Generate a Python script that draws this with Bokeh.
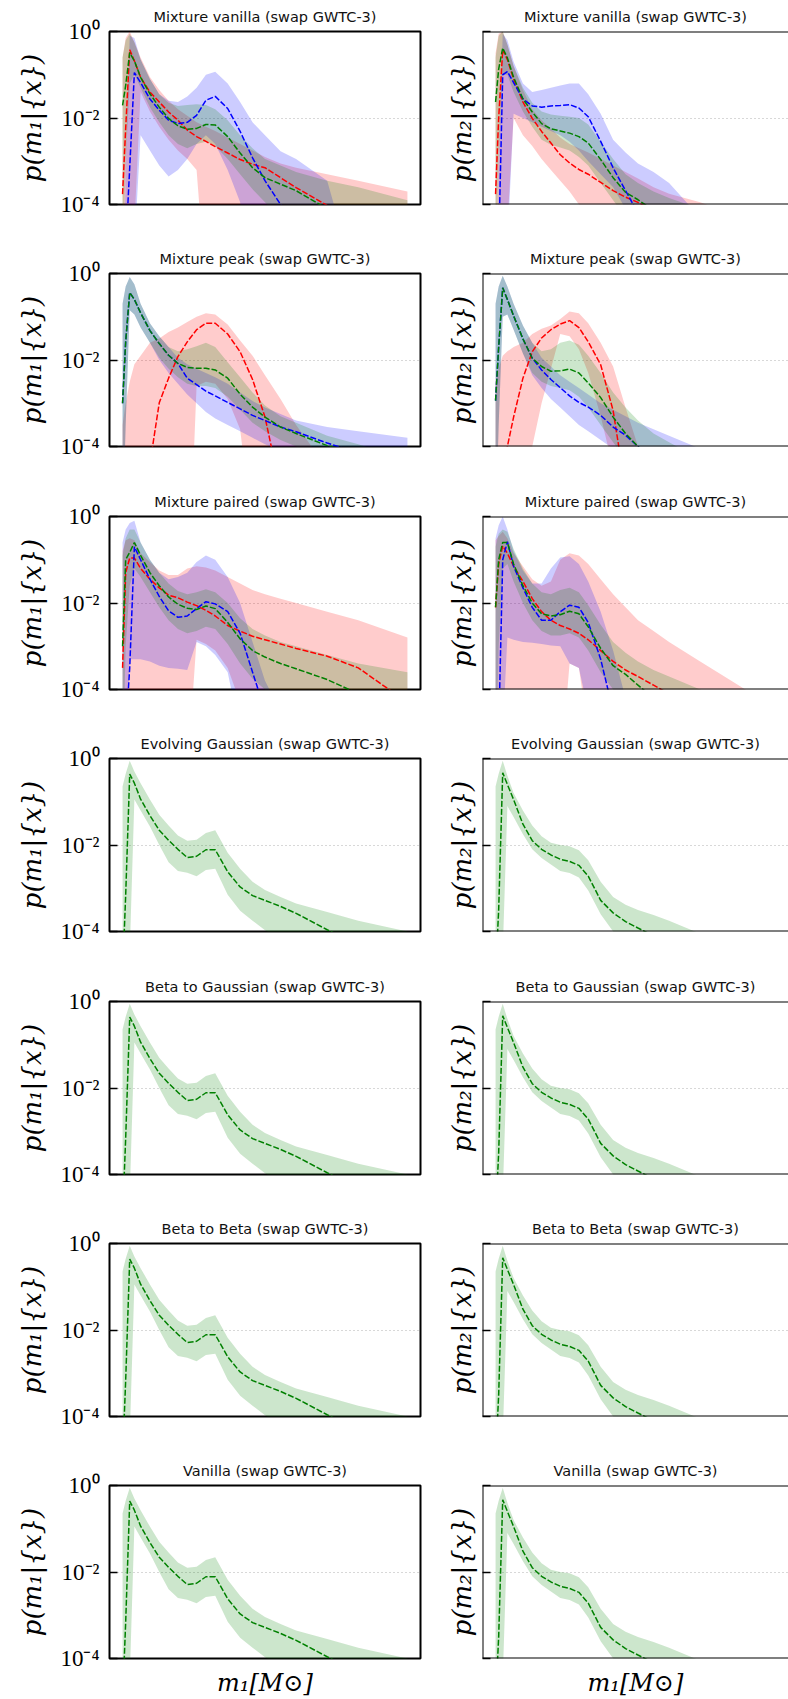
import numpy as np
from bokeh.plotting import figure
from bokeh.layouts import column, row
from bokeh.models import Range1d, FixedTicker, CustomJSTickFormatter, Span
from bokeh.embed import file_html
from bokeh.resources import INLINE

# ---------------- data (log10 of density) ----------------
MASS = [4.2, 5.2, 6.5, 8, 10, 13, 16, 19, 22, 25, 28, 31, 34, 38, 42, 46, 50, 55, 60, 70, 80, 95.8]

TITLES = ["Mixture vanilla (swap GWTC-3)", "Mixture peak (swap GWTC-3)",
          "Mixture paired (swap GWTC-3)", "Evolving Gaussian (swap GWTC-3)",
          "Beta to Gaussian (swap GWTC-3)", "Beta to Beta (swap GWTC-3)",
          "Vanilla (swap GWTC-3)"]
YLABELS = ["p(m\u2081|{x})", "p(m\u2082|{x})"]
XLABEL = "m\u2081[M\u2299]"
YTICKS = [1e-4, 1e-2, 1.0]

# Mixture vanilla, m1
mv1_red_med = [-3.76, -2.24, -0.42, -0.68, -1.06, -1.40, -1.63, -1.86, -2.05, -2.28, -2.43, -2.54, -2.66, -2.81, -2.96, -3.07, -3.15, -3.38, -3.61, -4.02, -4.3, -4.7]
mv1_red_lo = [-7, -6, -5, -4.5, -1.4, -1.85, -2.2, -2.5, -2.75, -2.95, -3.2, -6, -6, -6, -6, -6, -6, -6, -6, -6, -6, -6]
mv1_red_hi = [-0.6, -0.15, 0.0, -0.25, -0.6, -1.05, -1.35, -1.6, -1.8, -1.95, -2.1, -2.2, -2.3, -2.45, -2.6, -2.75, -2.9, -3.05, -3.15, -3.3, -3.45, -3.7]
mv1_blue_med = [-6, -5, -3.15, -0.95, -1.18, -1.56, -1.82, -2.05, -2.13, -2.10, -1.94, -1.59, -1.50, -1.78, -2.31, -2.92, -3.45, -4.0, -4.5, -5.5, -6, -6.5]
mv1_blue_lo = [-8, -8, -6, -5, -2.4, -2.75, -3.1, -3.35, -3.2, -2.95, -2.6, -2.4, -2.6, -3.2, -3.95, -6, -6, -6, -6, -6, -6, -6]
mv1_blue_hi = [-8, -3, -0.1, -0.15, -0.65, -1.1, -1.45, -1.6, -1.63, -1.5, -1.3, -1.0, -0.93, -1.2, -1.63, -2.1, -2.4, -2.77, -2.95, -3.45, -6, -6]
mv1_green_med = [-1.71, -1.25, -0.49, -0.68, -1.06, -1.44, -1.75, -2.01, -2.18, -2.26, -2.24, -2.15, -2.16, -2.43, -2.81, -3.15, -3.38, -3.53, -3.68, -4.1, -4.4, -4.8]
mv1_green_lo = [-6, -3, -1.2, -1.0, -1.3, -1.75, -2.1, -2.4, -2.6, -2.7, -2.6, -2.55, -2.65, -2.95, -3.3, -3.65, -3.95, -4.3, -4.6, -5, -5.3, -5.6]
mv1_green_hi = [-0.6, -0.2, -0.05, -0.25, -0.65, -1.1, -1.45, -1.65, -1.72, -1.7, -1.68, -1.7, -1.8, -2.05, -2.4, -2.7, -2.95, -3.1, -3.25, -3.45, -3.6, -3.9]

# Mixture vanilla, m2
mv2_red_med = [-3.76, -2.0, -0.42, -0.65, -1.10, -1.63, -2.01, -2.31, -2.58, -2.85, -3.04, -3.19, -3.30, -3.49, -3.68, -3.83, -3.95, -4.15, -4.35, -4.8, -5.2, -5.8]
mv2_red_lo = [-7, -6, -5, -4.5, -2.0, -2.4, -2.65, -2.95, -3.2, -3.45, -3.7, -4.0, -4.3, -5, -5.5, -6, -6, -6, -6, -6, -6, -6]
mv2_red_hi = [-0.5, -0.05, 0.0, -0.3, -0.8, -1.35, -1.8, -2.05, -2.25, -2.45, -2.6, -2.7, -2.8, -2.95, -3.1, -3.25, -3.4, -3.6, -3.75, -3.95, -4.2, -4.6]
mv2_blue_med = [-6, -5, -1.0, -0.93, -1.18, -1.56, -1.72, -1.75, -1.72, -1.71, -1.69, -1.77, -1.97, -2.54, -3.15, -3.68, -4.2, -4.8, -5.3, -6, -6.5, -7]
mv2_blue_lo = [-8, -8, -6, -5, -1.9, -2.0, -2.1, -2.2, -2.3, -2.4, -2.55, -2.75, -3.0, -3.3, -3.6, -4.1, -5, -6, -6, -6, -6, -6]
mv2_blue_hi = [-8, -3, -0.05, -0.2, -0.7, -1.2, -1.4, -1.35, -1.3, -1.25, -1.2, -1.2, -1.45, -1.9, -2.5, -2.8, -3.05, -3.25, -3.5, -4.3, -5, -6]
mv2_green_med = [-1.63, -0.87, -0.38, -0.61, -1.06, -1.56, -1.86, -2.13, -2.25, -2.30, -2.35, -2.43, -2.58, -2.96, -3.38, -3.72, -3.89, -4.14, -4.4, -4.9, -5.3, -5.8]
mv2_green_lo = [-6, -3, -1.0, -1.0, -1.4, -1.85, -2.2, -2.5, -2.62, -2.68, -2.75, -2.9, -3.1, -3.5, -3.9, -4.3, -4.6, -5, -5.3, -5.8, -6, -6.5]
mv2_green_hi = [-0.6, -0.1, 0.0, -0.3, -0.8, -1.3, -1.65, -1.85, -1.92, -1.95, -1.97, -2.0, -2.15, -2.55, -2.95, -3.3, -3.5, -3.7, -3.85, -4.1, -4.3, -4.6]

# Mixture peak, m1
mp1_red_med = [-7, -6.5, -6, -5.5, -5, -4.4, -2.99, -2.42, -1.92, -1.58, -1.30, -1.15, -1.15, -1.40, -1.81, -2.45, -3.32, -5, -6, -7, -7, -7]
mp1_red_lo = [-8, -8, -8, -8, -8, -8, -8, -8, -8, -8, -2.6, -2.5, -2.55, -2.9, -3.6, -6, -6, -6, -6, -7, -7, -7]
mp1_red_hi = [-3.5, -3.0, -2.5, -2.1, -1.9, -1.6, -1.5, -1.35, -1.25, -1.12, -1.0, -0.92, -0.95, -1.18, -1.55, -1.9, -2.35, -2.9, -3.5, -4.5, -5, -5.5]
mp1_blue_med = [-3.0, -1.58, -0.44, -0.60, -0.91, -1.32, -1.62, -1.89, -2.08, -2.42, -2.57, -2.72, -2.83, -2.98, -3.13, -3.28, -3.40, -3.55, -3.66, -3.92, -4.15, -4.5]
mp1_blue_lo = [-6, -3.5, -0.85, -0.95, -1.25, -1.6, -2.0, -2.3, -2.55, -2.8, -3.0, -3.2, -3.35, -3.5, -3.65, -3.8, -3.95, -4.1, -4.2, -4.4, -4.6, -4.9]
mp1_blue_hi = [-0.7, -0.3, -0.08, -0.25, -0.7, -1.15, -1.45, -1.7, -1.95, -2.1, -2.2, -2.3, -2.4, -2.55, -2.75, -2.95, -3.1, -3.25, -3.4, -3.55, -3.65, -3.8]
mp1_green_med = [-3.0, -1.58, -0.44, -0.60, -0.91, -1.32, -1.62, -1.89, -2.08, -2.17, -2.19, -2.19, -2.23, -2.42, -2.79, -3.09, -3.32, -3.55, -3.70, -3.98, -4.15, -4.5]
mp1_green_lo = [-6, -3.5, -0.85, -0.95, -1.25, -1.6, -1.95, -2.2, -2.4, -2.55, -2.6, -2.6, -2.65, -2.85, -3.15, -3.45, -3.65, -3.85, -4.0, -4.3, -4.5, -4.8]
mp1_green_hi = [-0.7, -0.3, -0.08, -0.25, -0.7, -1.15, -1.45, -1.7, -1.8, -1.75, -1.68, -1.6, -1.7, -2.05, -2.4, -2.75, -3.05, -3.3, -3.45, -3.75, -3.95, -4.3]

# Mixture peak, m2
mp2_red_med = [-6, -6, -6, -4.0, -3.32, -2.42, -1.81, -1.49, -1.30, -1.17, -1.09, -1.25, -1.58, -2.11, -3.17, -5, -6, -6, -6, -6, -6, -6]
mp2_red_lo = [-8, -8, -8, -8, -8, -8, -4.0, -3.0, -2.2, -1.4, -1.45, -1.75, -2.3, -3.3, -4.5, -6, -6, -6, -6, -6, -6, -6]
mp2_red_hi = [-2.5, -2.2, -1.9, -1.8, -1.7, -1.6, -1.4, -1.28, -1.2, -1.05, -0.88, -0.92, -1.15, -1.6, -2.15, -3.1, -4.0, -5, -6, -6, -6, -6]
mp2_blue_med = [-2.94, -1.7, -0.33, -0.60, -0.98, -1.51, -1.96, -2.23, -2.45, -2.64, -2.83, -2.98, -3.09, -3.28, -3.55, -3.74, -4.0, -4.3, -4.6, -5, -5.5, -6]
mp2_blue_lo = [-6, -3.5, -1.0, -0.95, -1.3, -1.85, -2.35, -2.65, -2.9, -3.1, -3.3, -3.5, -3.65, -3.85, -4.05, -4.3, -4.6, -5, -5.5, -6, -6, -6]
mp2_blue_hi = [-0.7, -0.3, -0.05, -0.3, -0.7, -1.2, -1.6, -1.95, -2.15, -2.35, -2.5, -2.65, -2.8, -3.0, -3.15, -3.3, -3.45, -3.6, -3.75, -4.05, -4.3, -4.7]
mp2_green_med = [-2.94, -1.7, -0.33, -0.60, -0.98, -1.51, -1.96, -2.15, -2.26, -2.25, -2.21, -2.30, -2.53, -2.87, -3.32, -3.70, -4.0, -4.3, -4.6, -5, -5.5, -6]
mp2_green_lo = [-6, -3.5, -1.0, -0.95, -1.3, -1.85, -2.3, -2.5, -2.6, -2.65, -2.7, -2.85, -3.1, -3.5, -3.9, -4.3, -4.6, -5, -5.5, -6, -6, -6]
mp2_green_hi = [-0.7, -0.3, -0.05, -0.3, -0.7, -1.2, -1.6, -1.8, -1.75, -1.6, -1.55, -1.65, -1.9, -2.3, -2.75, -3.1, -3.4, -3.7, -3.9, -4.3, -4.6, -5]

# Mixture paired, m1
mq1_red_med = [-3.5, -1.3, -0.96, -0.96, -1.2, -1.45, -1.65, -1.82, -1.88, -1.98, -2.06, -2.17, -2.3, -2.52, -2.65, -2.77, -2.85, -2.95, -3.05, -3.23, -3.5, -4.3]
mq1_red_lo = [-6, -6, -6, -6, -6, -6, -6, -6, -6, -6, -2.85, -2.95, -3.1, -3.5, -4.3, -5, -5, -5, -5, -5, -5, -5]
mq1_red_hi = [-0.8, -0.55, -0.5, -0.55, -0.85, -1.05, -1.25, -1.35, -1.35, -1.2, -1.15, -1.18, -1.25, -1.4, -1.55, -1.7, -1.8, -1.9, -2.0, -2.2, -2.4, -2.8]
mq1_blue_med = [-6, -5, -3.5, -0.7, -1.0, -1.45, -1.85, -2.18, -2.33, -2.3, -2.13, -1.97, -2.02, -2.2, -2.7, -3.6, -4.5, -6, -6, -6, -6, -6]
mq1_blue_lo = [-6, -6, -3.3, -3.3, -3.3, -3.35, -3.45, -3.5, -3.52, -3.55, -2.9, -3.0, -3.2, -3.6, -5, -6, -6, -6, -6, -6, -6, -6]
mq1_blue_hi = [-0.6, -0.3, -0.15, -0.1, -0.6, -1.0, -1.3, -1.45, -1.4, -1.3, -1.05, -0.9, -1.0, -1.4, -2.0, -2.9, -3.8, -4.5, -6, -6, -6, -6]
mq1_green_med = [-3.0, -1.0, -0.83, -0.6, -0.9, -1.3, -1.6, -1.86, -2.03, -2.12, -2.15, -2.07, -2.13, -2.45, -2.83, -3.1, -3.25, -3.4, -3.52, -3.77, -4.1, -4.5]
mq1_green_lo = [-6, -3, -1.6, -1.2, -1.4, -1.75, -2.1, -2.4, -2.6, -2.7, -2.65, -2.55, -2.6, -2.95, -3.4, -3.75, -4.0, -4.3, -4.5, -4.9, -5.2, -5.5]
mq1_green_hi = [-0.9, -0.5, -0.3, -0.3, -0.6, -1.0, -1.3, -1.55, -1.72, -1.8, -1.75, -1.68, -1.75, -2.0, -2.35, -2.6, -2.75, -2.9, -3.0, -3.2, -3.4, -3.6]

# Mixture paired, m2
mq2_red_med = [-2.1, -1.1, -0.68, -0.85, -1.15, -1.5, -1.9, -2.2, -2.4, -2.52, -2.6, -2.7, -2.85, -3.1, -3.35, -3.55, -3.7, -3.9, -4.1, -4.5, -5, -5.5]
mq2_red_lo = [-6, -6, -6, -6, -6, -6, -6, -6, -6, -6, -3.4, -3.5, -5, -5, -5, -5, -5, -5, -5, -5, -5, -5]
mq2_red_hi = [-0.55, -0.45, -0.35, -0.5, -0.85, -1.15, -1.45, -1.6, -1.5, -1.0, -0.85, -0.9, -1.1, -1.45, -1.8, -2.1, -2.4, -2.65, -2.9, -3.35, -3.8, -4.5]
mq2_blue_med = [-6, -5, -1.0, -0.58, -1.15, -1.65, -2.1, -2.4, -2.4, -2.2, -2.05, -2.1, -2.45, -3.3, -4.5, -6, -6, -6, -6, -6, -6, -6]
mq2_blue_lo = [-6, -6, -5, -2.8, -2.85, -2.9, -2.92, -2.95, -2.98, -3.0, -3.4, -3.5, -4.5, -6, -6, -6, -6, -6, -6, -6, -6, -6]
mq2_blue_hi = [-0.5, -0.2, 0.0, -0.3, -0.8, -1.25, -1.55, -1.55, -1.2, -0.95, -0.92, -1.1, -1.5, -2.2, -3.1, -4.2, -5, -6, -6, -6, -6, -6]
mq2_green_med = [-2.1, -1.0, -0.6, -0.6, -1.1, -1.6, -2.0, -2.25, -2.3, -2.27, -2.19, -2.25, -2.55, -3.05, -3.45, -3.65, -3.9, -4.2, -4.5, -5, -5.5, -6]
mq2_green_lo = [-6, -3, -1.2, -1.1, -1.5, -2.0, -2.4, -2.65, -2.75, -2.75, -2.7, -2.8, -3.1, -3.6, -4.0, -4.3, -4.6, -5, -5.3, -5.8, -6, -6]
mq2_green_hi = [-0.7, -0.4, -0.3, -0.35, -0.75, -1.2, -1.55, -1.75, -1.8, -1.7, -1.65, -1.75, -2.05, -2.5, -2.9, -3.15, -3.35, -3.55, -3.7, -4.0, -4.3, -4.7]

# single-model rows (Evolving Gaussian, Beta to Gaussian, Beta to Beta, Vanilla)
single1_med = [-5, -3.17, -0.36, -0.57, -0.94, -1.32, -1.66, -1.89, -2.1, -2.29, -2.26, -2.11, -2.11, -2.62, -2.97, -3.17, -3.28, -3.42, -3.58, -3.96, -4.3, -4.7]
single1_lo = [-6, -6, -4.5, -0.95, -1.2, -1.57, -2.0, -2.4, -2.6, -2.64, -2.72, -2.58, -2.55, -3.15, -3.52, -3.75, -3.97, -4.2, -4.4, -4.8, -5.1, -5.5]
single1_hi = [-0.65, -0.35, -0.05, -0.3, -0.57, -0.95, -1.3, -1.55, -1.78, -1.9, -1.88, -1.72, -1.66, -2.18, -2.55, -2.85, -3.04, -3.2, -3.35, -3.55, -3.75, -4.0]
single2_med = [-5, -3.5, -0.33, -0.6, -0.95, -1.52, -1.9, -2.1, -2.23, -2.33, -2.38, -2.47, -2.72, -3.28, -3.57, -3.77, -3.92, -4.1, -4.3, -4.7, -5, -5.5]
single2_lo = [-6, -6, -4.5, -1.1, -1.35, -1.75, -2.1, -2.3, -2.45, -2.6, -2.65, -2.75, -3.05, -3.6, -4.0, -4.3, -4.6, -5, -5.3, -5.8, -6, -6]
single2_hi = [-0.65, -0.35, -0.05, -0.4, -0.8, -1.2, -1.55, -1.8, -1.95, -2.0, -2.03, -2.12, -2.35, -2.85, -3.2, -3.38, -3.5, -3.62, -3.75, -4.05, -4.3, -4.7]

MIX_ROWS = [
    ([("red", mv1_red_lo, mv1_red_med, mv1_red_hi), ("blue", mv1_blue_lo, mv1_blue_med, mv1_blue_hi), ("green", mv1_green_lo, mv1_green_med, mv1_green_hi)],
     [("red", mv2_red_lo, mv2_red_med, mv2_red_hi), ("blue", mv2_blue_lo, mv2_blue_med, mv2_blue_hi), ("green", mv2_green_lo, mv2_green_med, mv2_green_hi)]),
    ([("red", mp1_red_lo, mp1_red_med, mp1_red_hi), ("blue", mp1_blue_lo, mp1_blue_med, mp1_blue_hi), ("green", mp1_green_lo, mp1_green_med, mp1_green_hi)],
     [("red", mp2_red_lo, mp2_red_med, mp2_red_hi), ("blue", mp2_blue_lo, mp2_blue_med, mp2_blue_hi), ("green", mp2_green_lo, mp2_green_med, mp2_green_hi)]),
    ([("red", mq1_red_lo, mq1_red_med, mq1_red_hi), ("blue", mq1_blue_lo, mq1_blue_med, mq1_blue_hi), ("green", mq1_green_lo, mq1_green_med, mq1_green_hi)],
     [("red", mq2_red_lo, mq2_red_med, mq2_red_hi), ("blue", mq2_blue_lo, mq2_blue_med, mq2_blue_hi), ("green", mq2_green_lo, mq2_green_med, mq2_green_hi)]),
]
SINGLE = ([("green", single1_lo, single1_med, single1_hi)], [("green", single2_lo, single2_med, single2_hi)])
PANELS = MIX_ROWS + [SINGLE] * 4

COLORS = {"red": "#ff0000", "blue": "#0000ff", "green": "#008000"}

# ---------------- layout ----------------
ROW_H = [242, 243, 242, 243, 242, 242, 245]
FRAME_H = 176
TOP = 28
LEFT_W, RIGHT_W = 441, 347
X_END_LEFT = 100.0
X_END_RIGHT = 100.0 * 306 / 311

SUP = CustomJSTickFormatter(code="""
const e = Math.round(Math.log10(tick));
const m = {"0":"\u2070","1":"\u00b9","2":"\u00b2","3":"\u00b3","4":"\u2074","5":"\u2075","-":"\u207b"};
return "10" + String(e).split("").map(c => m[c]).join("");
""")


def panel(i, col):
    h = ROW_H[i]
    right = col == 1
    p = figure(width=RIGHT_W if right else LEFT_W, height=h, y_axis_type="log",
               x_range=Range1d(0, X_END_RIGHT if right else X_END_LEFT),
               y_range=Range1d(1e-4, 1.0),
               output_backend="svg", toolbar_location=None,
               min_border_left=41 if right else 109,
               min_border_right=0 if right else 21,
               min_border_top=TOP, min_border_bottom=h - TOP - FRAME_H)
    p.title.text = TITLES[i]
    p.title.align = "center"
    p.title.text_font = "DejaVu Sans"
    p.title.text_font_size = "14.5px"
    p.title.text_font_style = "normal"
    p.title.text_color = "#111111"
    p.title.standoff = 13
    if right:
        p.title.offset = 2.5

    x = np.array(MASS)
    for name, lo, med, hi in PANELS[i][col]:
        p.varea(x=x, y1=10 ** np.array(lo, dtype=float), y2=10 ** np.array(hi, dtype=float),
                fill_color=COLORS[name], fill_alpha=0.2)
    for name, lo, med, hi in PANELS[i][col]:
        p.line(x, 10 ** np.array(med, dtype=float), line_color=COLORS[name],
               line_width=1.5, line_dash="6 2")

    ya = p.yaxis[0]
    ya.ticker = FixedTicker(ticks=YTICKS, minor_ticks=[])
    ya.major_tick_in = 8
    ya.major_tick_out = 0
    ya.major_tick_line_width = 1.5
    ya.minor_tick_line_color = None
    ya.axis_line_color = None
    ya.axis_label = YLABELS[col]
    ya.axis_label_text_font = "DejaVu Serif"
    ya.axis_label_text_font_style = "italic"
    ya.axis_label_text_font_size = "26px"
    ya.axis_label_text_color = "black"
    if right:
        ya.formatter = CustomJSTickFormatter(code="return '';")
        ya.major_label_text_font_size = "0px"
        ya.major_label_standoff = 0
        ya.axis_label_standoff = 6
    else:
        ya.formatter = SUP
        ya.major_label_text_font = "Liberation Serif"
        ya.major_label_text_font_size = "23px"
        ya.major_label_text_color = "black"
        ya.major_label_standoff = 10
        ya.axis_label_standoff = 10

    p.xgrid.visible = False
    p.ygrid.grid_line_color = "#b0b0b0"
    p.ygrid.grid_line_dash = "1 3"
    p.ygrid.grid_line_width = 1.2

    xa = p.xaxis[0]
    if i == len(ROW_H) - 1:
        xa.ticker = FixedTicker(ticks=[])
        xa.major_label_text_font_size = "0px"
        xa.major_tick_line_color = None
        xa.minor_tick_line_color = None
        xa.axis_line_color = None
        xa.major_label_standoff = 0
        xa.axis_label = XLABEL
        xa.axis_label_text_font = "DejaVu Serif"
        xa.axis_label_text_font_style = "italic"
        xa.axis_label_text_font_size = "24px"
        xa.axis_label_text_color = "black"
        xa.axis_label_standoff = 10
    else:
        xa.visible = False

    if right:
        p.outline_line_color = None
        p.add_layout(Span(location=0, dimension="height", line_color="black", line_width=2))
        p.add_layout(Span(location=1.0, dimension="width", line_color="black", line_width=2))
        p.add_layout(Span(location=1e-4, dimension="width", line_color="black", line_width=2))
    else:
        p.outline_line_color = "black"
        p.outline_line_width = 2
        p.outline_line_alpha = 1.0
    return p


rows = [row(panel(i, 0), panel(i, 1)) for i in range(len(ROW_H))]
layout = column(*rows)

open("out.html", "w").write(file_html(layout, INLINE))
